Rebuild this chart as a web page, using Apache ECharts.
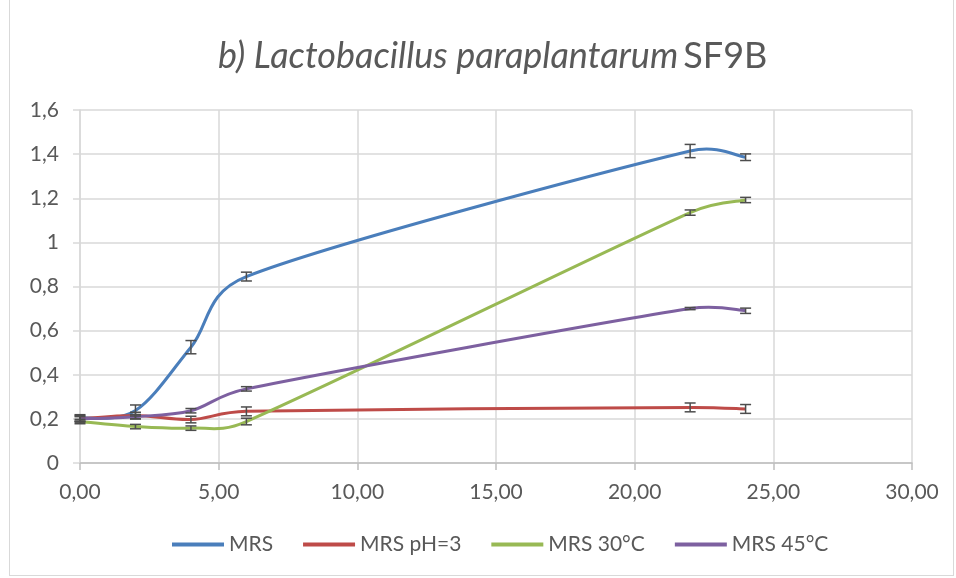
<!DOCTYPE html>
<html>
<head>
<meta charset="utf-8">
<script src="https://cdn.jsdelivr.net/npm/echarts@6/dist/echarts.min.js"></script>
<style>
  html, body { margin: 0; padding: 0; background: #fff; }
  #main { position: absolute; left: 9px; top: 0; width: 945px; height: 576px; border: 1px solid #d9d9d9; border-top: none; box-sizing: border-box; }
</style>
</head>
<body>
<div id="main"></div>
<script>
// temps (h)
const hours = [0, 2, 4, 6, 22, 24];

const seriesNames = ['MRS', 'MRS pH=3', 'MRS 30°C', 'MRS 45°C'];
const colors = ['#4A7EBB', '#BE4B48', '#98B954', '#7D60A0'];

const mrs     = [0.204, 0.238, 0.525, 0.845, 1.414, 1.386];
const mrsPh3  = [0.200, 0.215, 0.197, 0.234, 0.252, 0.245];
const mrs30   = [0.188, 0.165, 0.158, 0.188, 1.135, 1.192];
const mrs45   = [0.200, 0.210, 0.237, 0.336, 0.700, 0.690];

// écarts-types (barres d'erreur)
const errMrs    = [0.015, 0.025, 0.030, 0.020, 0.030, 0.015];
const errPh3    = [0.015, 0.015, 0.015, 0.020, 0.020, 0.020];
const err30     = [0.010, 0.010, 0.010, 0.015, 0.012, 0.012];
const err45     = [0.010, 0.010, 0.010, 0.010, 0.005, 0.012];

const allValues = [mrs, mrsPh3, mrs30, mrs45];
const allErrors = [errMrs, errPh3, err30, err45];

const xTicks = { min: 0, max: 30, interval: 5 };
const yTicks = { min: 0, max: 1.6, interval: 0.2 };

const font = 'Lato, "Open Sans", sans-serif';
const chart = echarts.init(document.getElementById('main'));

// lissage type Excel (Catmull-Rom, bras de contrôle limités)
function smoothCurve(pts) {
  const n = pts.length;
  const tan = pts.map((p, i) => {
    const a = pts[Math.max(i - 1, 0)];
    const b = pts[Math.min(i + 1, n - 1)];
    return [(b[0] - a[0]) / 6, (b[1] - a[1]) / 6];
  });
  const clamp = (t, maxLen) => {
    const len = Math.hypot(t[0], t[1]);
    if (len <= maxLen || len === 0) return t;
    return [t[0] * maxLen / len, t[1] * maxLen / len];
  };
  const parts = [];
  for (let i = 0; i < n - 1; i++) {
    const p0 = pts[i], p1 = pts[i + 1];
    const d = Math.hypot(p1[0] - p0[0], p1[1] - p0[1]) * 0.5;
    const t0 = clamp(tan[i], d), t1 = clamp(tan[i + 1], d);
    parts.push({
      type: 'bezierCurve',
      shape: {
        x1: p0[0], y1: p0[1], x2: p1[0], y2: p1[1],
        cpx1: p0[0] + t0[0], cpy1: p0[1] + t0[1],
        cpx2: p1[0] - t1[0], cpy2: p1[1] - t1[1]
      }
    });
  }
  return parts;
}

const series = [];
allValues.forEach((vals, i) => {
  series.push({
    name: seriesNames[i],
    type: 'custom',
    itemStyle: { color: colors[i] },
    z: 2,
    data: hours.map((h, k) => [h, vals[k]]),
    renderItem: function (params, api) {
      if (params.dataIndex !== 0) return null;
      const pts = hours.map((h, k) => api.coord([h, vals[k]]));
      const children = smoothCurve(pts).map(c => {
        c.style = { stroke: colors[i], lineWidth: 3, fill: null };
        return c;
      });
      return { type: 'group', children };
    }
  });
});

allValues.forEach((vals, i) => {
  series.push({
    type: 'custom',
    name: seriesNames[i] + ' err',
    silent: true,
    z: 3,
    data: hours.map((h, k) => [h, vals[k] - allErrors[i][k], vals[k] + allErrors[i][k]]),
    renderItem: function (params, api) {
      const lo = api.coord([api.value(0), api.value(1)]);
      const hi = api.coord([api.value(0), api.value(2)]);
      const w = 5.5;
      const style = { stroke: '#4d4d4d', lineWidth: 1.5 };
      return {
        type: 'group',
        children: [
          { type: 'line', shape: { x1: lo[0], y1: lo[1], x2: hi[0], y2: hi[1] }, style },
          { type: 'line', shape: { x1: lo[0] - w, y1: lo[1], x2: lo[0] + w, y2: lo[1] }, style },
          { type: 'line', shape: { x1: hi[0] - w, y1: hi[1], x2: hi[0] + w, y2: hi[1] }, style }
        ]
      };
    }
  });
});

const option = {
  animation: false,
  backgroundColor: '#fff',
  title: {
    text: '{i|b) Lactobacillus paraplantarum} {n|SF9B}',
    left: 203,
    top: 33,
    textStyle: {
      fontWeight: 'normal',
      rich: {
        i: { fontFamily: font, fontSize: 36, fontStyle: 'italic', fontWeight: 'normal', color: '#595959' },
        n: { fontFamily: font, fontSize: 36, fontWeight: 'normal', color: '#595959' }
      }
    }
  },
  legend: {
    data: seriesNames,
    bottom: 15,
    left: 157,
    icon: 'rect',
    itemWidth: 52,
    itemHeight: 4,
    itemGap: 30,
    textStyle: { fontFamily: font, fontSize: 21, color: '#595959' }
  },
  grid: { left: 70, right: 41, top: 110, bottom: 112 },
  xAxis: {
    type: 'value',
    min: xTicks.min, max: xTicks.max, interval: xTicks.interval,
    axisLine: { lineStyle: { color: '#bfbfbf', width: 1.5 } },
    axisTick: { show: true, length: 7, lineStyle: { color: '#bfbfbf', width: 1.5 } },
    splitLine: { show: true, lineStyle: { color: '#d9d9d9', width: 1.5 } },
    axisLabel: {
      margin: 19,
      fontFamily: font, fontSize: 21, color: '#595959',
      formatter: v => v.toFixed(2).replace('.', ',')
    }
  },
  yAxis: {
    type: 'value',
    min: yTicks.min, max: yTicks.max, interval: yTicks.interval,
    axisLine: { show: true, lineStyle: { color: '#d9d9d9', width: 1.5 } },
    axisTick: { show: true, length: 7, lineStyle: { color: '#d9d9d9', width: 1.5 } },
    splitLine: { show: true, lineStyle: { color: '#d9d9d9', width: 1.5 } },
    axisLabel: {
      margin: 21,
      fontFamily: font, fontSize: 21, color: '#595959',
      formatter: v => String(Math.round(v * 10) / 10).replace('.', ',')
    }
  },
  series: series
};

chart.setOption(option);
</script>
</body>
</html>
